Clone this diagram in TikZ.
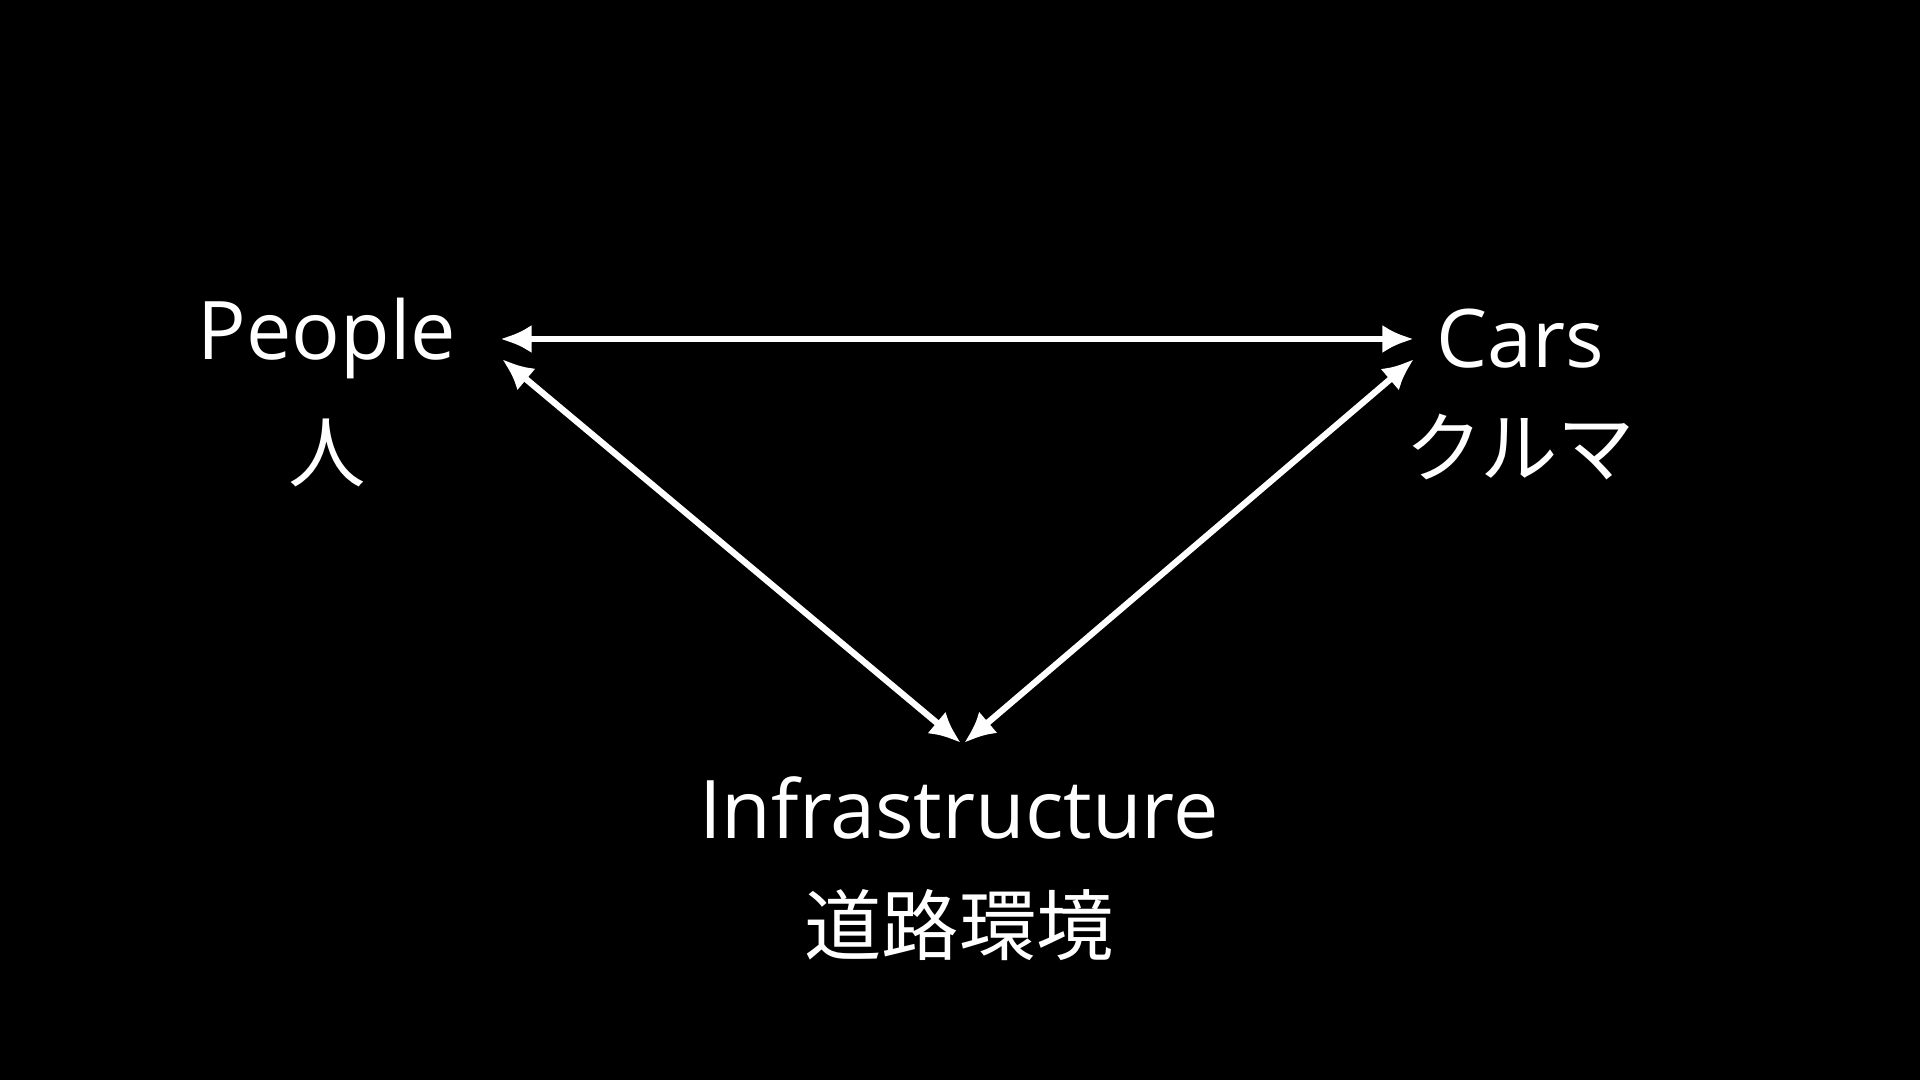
\documentclass[tikz,border=0pt]{standalone}
\usepackage{fontspec}
\setmainfont{Open Sans}
\newfontfamily\cjk{Noto Sans CJK JP}
\usetikzlibrary{arrows.meta}
\begin{document}
\begin{tikzpicture}[x=0.01cm,y=-0.01cm,
  lab/.style={text=white,font=\fontsize{23}{26}\selectfont},
  jlab/.style={text=white,font=\cjk\fontsize{22}{26}\selectfont},
  arr/.style={white,line width=1.8pt,{Latex[length=9pt,width=8pt]}-{Latex[length=9pt,width=8pt]}}]
\fill[black] (0,0) rectangle (1920,1080);
\useasboundingbox (0,0) rectangle (1920,1080);
\node[lab] (p) at (327,339) {People};
\node[jlab] (pj) at (327,453) {人};
\node[lab] (c) at (1520,339) {Cars};
\node[jlab] (cj) at (1520,447) {クルマ};
\node[lab] (i) at (959,808) {Infrastructure};
\node[jlab] (ij) at (959,925) {道路環境};
\coordinate (a1) at (500,339);
\coordinate (a2) at (1414,339);
\coordinate (b1) at (502,359);
\coordinate (b2) at (961,743);
\coordinate (d1) at (1414,359);
\coordinate (d2) at (964,743);
\draw[arr] (a1) -- (a2);
\draw[arr] (b1) -- (b2);
\draw[arr] (d1) -- (d2);
\end{tikzpicture}
\end{document}
